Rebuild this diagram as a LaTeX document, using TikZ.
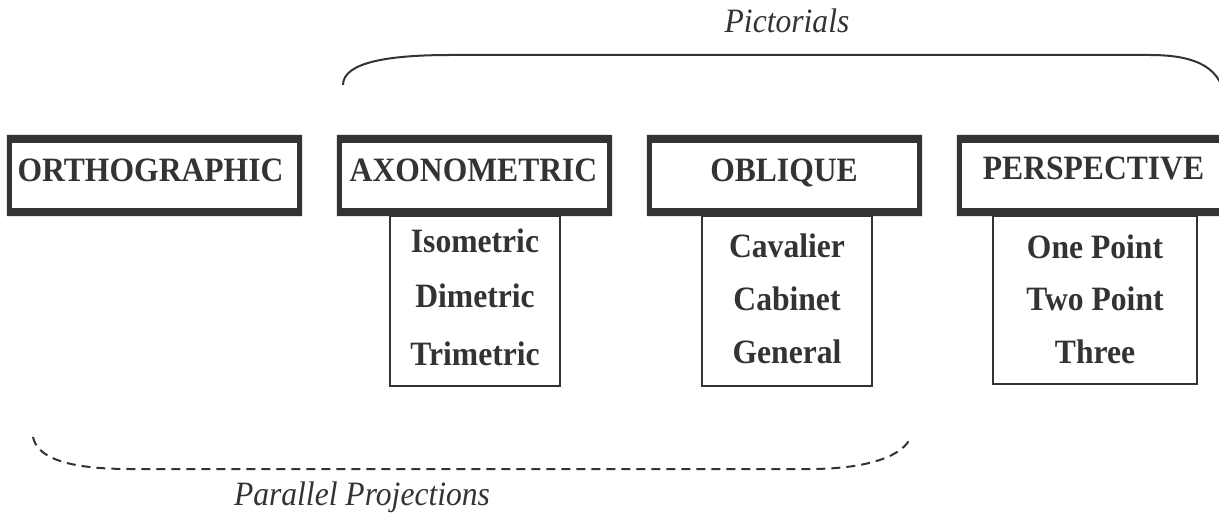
\documentclass[tikz,border=0pt]{standalone}
\usepackage{fontspec}
\setmainfont{Liberation Serif}
\usetikzlibrary{positioning}
\definecolor{ink}{HTML}{333333}
\newcommand{\vs}[1]{\scalebox{1}[1.08]{#1}}
\begin{document}
\begin{tikzpicture}[x=1pt,y=-1pt,
  frame/.style={rectangle,draw=none,inner sep=0pt,minimum width=275pt,minimum height=81pt},
  subbox/.style={rectangle,draw=ink,line width=2pt,inner sep=0pt,fill=white},
  head/.style={anchor=base,text=ink,inner sep=0pt,font=\fontsize{31.6}{36}\selectfont\bfseries},
  item/.style={anchor=base,text=ink,inner sep=0pt,font=\fontsize{31.6}{36}\selectfont\bfseries},
  label/.style={anchor=base,text=ink,inner sep=0pt,font=\fontsize{31.6}{36}\selectfont\itshape},
  brace/.style={draw=ink,line width=2pt},
  dbrace/.style={draw=ink,line width=2pt,dash pattern=on 9pt off 6pt}]
\clip (0,0) rectangle (1219,513);
\fill[white] (0,0) rectangle (1219,513);
% sub boxes
\node[subbox,minimum width=170pt,minimum height=170pt] (axsub) at (475,301) {};
\node[subbox,minimum width=170pt,minimum height=170pt] (obsub) at (787,301) {};
\node[subbox,minimum width=204pt,minimum height=168pt] (pesub) at (1095,300) {};
% header frames
\node[frame,minimum width=295pt] (ortho) at (154.5,175.5) {};
\node[frame] (axo) at (474.5,175.5) {};
\node[frame] (obl) at (784.5,175.5) {};
\node[frame] (per) at (1094.5,175.5) {};
\foreach \n in {ortho,axo,obl,per}{
  \fill[white] (\n.north west) rectangle (\n.south east);
  \fill[ink,even odd rule] (\n.north west) rectangle (\n.south east)
    ([shift={(5,8)}]\n.north west) rectangle ([shift={(-5,-8)}]\n.south east);
}
% header texts
\node[head] (orthot) at (150.5,182) {\vs{ORTHOGRAPHIC}};
\node[head] (axot) at (473.5,182) {\vs{AXONOMETRIC}};
\node[head] (oblt) at (784,182) {\vs{OBLIQUE}};
\node[head] (pert) at (1093.5,180) {\vs{PERSPECTIVE}};
% items
\node[item] (iso) at (475,253) {\vs{Isometric}};
\node[item] (dim) at (475,308) {\vs{Dimetric}};
\node[item] (tri) at (475,365) {\vs{Trimetric}};
\node[item] (cav) at (787,258) {\vs{Cavalier}};
\node[item] (cab) at (787,310) {\vs{Cabinet}};
\node[item] (gen) at (787,363) {\vs{General}};
\node[item] (one) at (1095,259) {\vs{One Point}};
\node[item] (two) at (1095,311) {\vs{Two Point}};
\node[item] (thr) at (1095,363) {\vs{Three}};
% braces
\coordinate (pb1) at (343,85);
\coordinate (pb2) at (1225,100);
\draw[brace] (pb1) .. controls (343,62) and (390,55) .. (450,55) -- (1150,55)
  .. controls (1200,55) and (1222,70) .. (pb2);
\coordinate (qb1) at (33,437);
\coordinate (qb2) at (911,436);
\draw[dbrace] (qb1) .. controls (38,462) and (80,469) .. (130,469) -- (810,469)
  .. controls (870,469) and (905,455) .. (qb2);
% labels
\node[label] (pict) at (787,33) {\vs{Pictorials}};
\node[label] (par) at (362,505) {\vs{Parallel Projections}};
\end{tikzpicture}
\end{document}
